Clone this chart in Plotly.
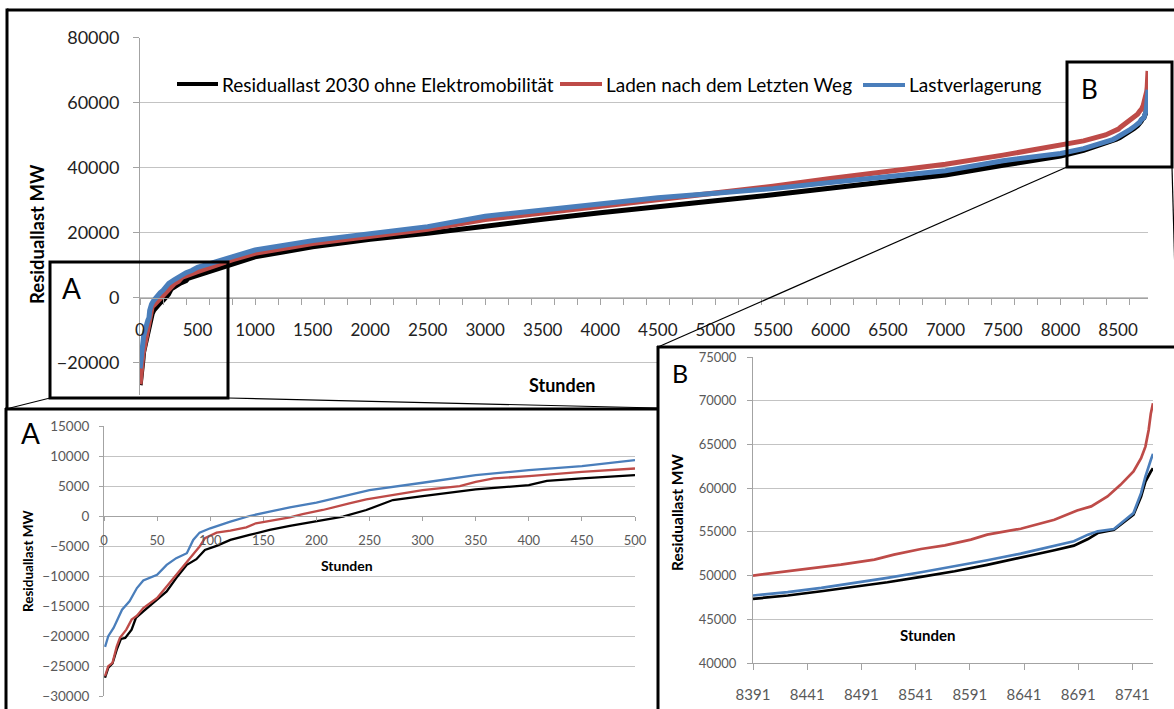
import plotly.graph_objects as go

W, H = 1174, 709


def px(x):
    return x / W


def py(y):
    return 1 - y / H


# ---------------- data ----------------
SERIES = ["Residuallast 2030 ohne Elektromobilität", "Laden nach dem Letzten Weg", "Lastverlagerung"]

# first 500 hours (detail A)
a_hours_base = [1, 4, 8, 12, 16, 20, 26, 30, 37, 50, 59, 68, 78, 87, 95, 106, 119, 137, 156, 175,
                200, 225, 247, 272, 300, 350, 400, 417, 450, 500]
a_base = [-26960, -25300, -24580, -22260, -20480, -20310, -18940, -17000, -15890, -13950, -12570,
          -10350, -8140, -7200, -5650, -4980, -3990, -3160, -2330, -1660, -940, -110, 1000, 2660,
          3320, 4430, 5150, 5870, 6260, 6810]

a_hours_laden = [1, 4, 8, 12, 15, 21, 26, 31, 37, 50, 59, 68, 78, 84, 90, 95, 106, 119, 134, 143,
                 162, 175, 187, 206, 231, 247, 300, 335, 350, 367, 400, 450, 500]
a_laden = [-26690, -25030, -24470, -21710, -20310, -18940, -17270, -16610, -15330, -13670, -11740,
           -9800, -7590, -6200, -5090, -3710, -2770, -2440, -1880, -1210, -660, -220, 330, 1000,
           2110, 2770, 4320, 4980, 5700, 6260, 6640, 7360, 7920]

a_hours_shift = [1, 4, 9, 17, 24, 31, 37, 50, 59, 68, 78, 84, 90, 100, 119, 137, 156, 175, 200,
                 225, 250, 300, 350, 400, 450, 500]
a_shift = [-21810, -20040, -18660, -15610, -14230, -12010, -10740, -9800, -8140, -7030, -6200,
           -3990, -2770, -2050, -940, 0, 720, 1440, 2220, 3210, 4320, 5540, 6810, 7640, 8300, 9300]

# middle part of the year (main chart)
m_hours = [800, 1000, 1500, 2000, 2500, 3000, 3500, 4000, 4500, 5000, 5500, 6000, 6500, 7000,
           7500, 8000, 8200]
m_base = [10500, 12500, 15600, 17900, 19800, 22100, 24100, 26100, 28100, 29800, 31600, 33700,
          35600, 37700, 40700, 43500, 45300]
m_laden = [11600, 13600, 16600, 18900, 21000, 24000, 26000, 28100, 30000, 32000, 34200, 36600,
           38700, 41000, 43800, 46700, 48200]
m_shift = [12500, 14600, 17500, 19700, 21800, 25000, 26900, 28800, 30700, 32100, 33500, 35400,
           37100, 39000, 42100, 44300, 45800]

# last hours (detail B)
b_hours_base = [8391, 8423, 8454, 8485, 8515, 8546, 8577, 8607, 8638, 8669, 8687, 8700, 8709,
                8724, 8736, 8742, 8749, 8753, 8758, 8760]
b_base = [47340, 47720, 48210, 48710, 49240, 49850, 50490, 51220, 52020, 52890, 53420, 54180,
          54870, 55250, 56390, 56960, 59050, 60760, 61900, 62280]
b_shift = [47720, 48100, 48590, 49160, 49730, 50380, 51060, 51750, 52510, 53350, 53920, 54680,
           55060, 55320, 56580, 57150, 59430, 61330, 63230, 63920]
b_hours_laden = [8391, 8423, 8454, 8472, 8503, 8521, 8546, 8568, 8592, 8607, 8638, 8669, 8690,
                 8703, 8718, 8730, 8742, 8749, 8753, 8756, 8758, 8760]
b_laden = [50000, 50490, 50950, 51250, 51830, 52400, 53040, 53460, 54110, 54680, 55360, 56390,
           57450, 57910, 59050, 60380, 61900, 63420, 64750, 66650, 68550, 69700]

main_x_ticks = list(range(0, 8501, 500))
inset_b_ticks = [8391, 8441, 8491, 8541, 8591, 8641, 8691, 8741]

# ---------------- style ----------------
BLACK, RED, BLUE = "#000000", "#be4b48", "#4a7ebb"
COLORS = [BLACK, RED, BLUE]
FONT = "Lato, 'Open Sans', sans-serif"
GRID = "#c3c3c3"
AXL = "#a3a3a3"
LBL = "#595959"

fig = go.Figure()

full = [
    (a_hours_base + m_hours + b_hours_base, a_base + m_base + b_base),
    (a_hours_laden + m_hours + b_hours_laden, a_laden + m_laden + b_laden),
    (a_hours_shift + m_hours + b_hours_base, a_shift + m_shift + b_shift),
]
for (xs, ys), c, name in zip(full, COLORS, SERIES):
    fig.add_trace(go.Scatter(x=xs, y=ys, mode="lines", line=dict(color=c, width=5),
                             name=name, showlegend=False, xaxis="x", yaxis="y"))

# overlay axis carrying the main x labels
fig.add_trace(go.Scatter(x=[None], y=[None], xaxis="x6", yaxis="y", showlegend=False,
                         hoverinfo="skip"))
# white frames for the two detail panels
fig.add_trace(go.Scatter(x=[None], y=[None], xaxis="x2", yaxis="y2", showlegend=False,
                         hoverinfo="skip"))
fig.add_trace(go.Scatter(x=[None], y=[None], xaxis="x3", yaxis="y3", showlegend=False,
                         hoverinfo="skip"))

insA = [(a_hours_base, a_base), (a_hours_laden, a_laden), (a_hours_shift, a_shift)]
for (xs, ys), c, name in zip(insA, COLORS, SERIES):
    fig.add_trace(go.Scatter(x=xs, y=ys, mode="lines", line=dict(color=c, width=2.3),
                             name=name, showlegend=False, xaxis="x4", yaxis="y4"))

insB = [(b_hours_base, b_base), (b_hours_laden, b_laden), (b_hours_base, b_shift)]
for (xs, ys), c, name in zip(insB, COLORS, SERIES):
    fig.add_trace(go.Scatter(x=xs, y=ys, mode="lines", line=dict(color=c, width=2.7),
                             name=name, showlegend=False, xaxis="x5", yaxis="y5"))

# ---------------- axes ----------------
MX0, MX1, MY0, MY1 = 140, 1148, 395, 37.5          # main plot area in pixels
main_rng_x = [0, 8760]
main_rng_y = [-30000, 80000]
main_dom_y = [py(MY0), py(MY1)]
zero_main = main_dom_y[0] + (0 - main_rng_y[0]) / (main_rng_y[1] - main_rng_y[0]) * (main_dom_y[1] - main_dom_y[0])

insA_dom_y = [py(696), py(426)]
insA_rng_y = [-30000, 15000]
zero_A = insA_dom_y[0] + (0 - insA_rng_y[0]) / (insA_rng_y[1] - insA_rng_y[0]) * (insA_dom_y[1] - insA_dom_y[0])

fig.update_layout(
    width=W, height=H, margin=dict(l=0, r=0, t=0, b=0, pad=0, autoexpand=False),
    paper_bgcolor="white", plot_bgcolor="white",
    font=dict(family=FONT, color="#222222"),
    showlegend=False, hovermode=False,
    xaxis=dict(domain=[px(MX0), px(MX1)], range=main_rng_x, anchor="free", position=zero_main,
               showgrid=False, zeroline=False, showline=True, linecolor=AXL, linewidth=1,
               ticks="outside", ticklen=6, tickcolor=AXL, tickmode="linear", tick0=0, dtick=200,
               showticklabels=False),
    xaxis6=dict(overlaying="x", range=main_rng_x, anchor="free", position=zero_main,
                showgrid=False, zeroline=False, showline=False, ticks="",
                tickmode="array", tickvals=main_x_ticks, ticktext=[str(v) for v in main_x_ticks],
                tickfont=dict(size=17, color="#222222", family=FONT), ticklabelstandoff=20),
    yaxis=dict(domain=main_dom_y, range=main_rng_y, anchor="x", tickmode="linear", tick0=0,
               dtick=20000, tickformat="d", showgrid=True, gridcolor=GRID, gridwidth=1,
               zeroline=False, showline=True, linecolor=AXL, ticks="outside", ticklen=6,
               tickcolor=AXL, tickfont=dict(size=18, color="#222222", family=FONT),
               ticklabelstandoff=10),
    xaxis2=dict(domain=[px(7), px(657)], range=[0, 1], anchor="y2", visible=False),
    yaxis2=dict(domain=[py(709), py(409)], range=[0, 1], anchor="x2", visible=False),
    xaxis3=dict(domain=[px(658), 1.0], range=[0, 1], anchor="y3", visible=False),
    yaxis3=dict(domain=[0.0, py(347)], range=[0, 1], anchor="x3", visible=False),
    xaxis4=dict(domain=[px(104), px(635)], range=[0, 500], anchor="free", position=zero_A,
                showgrid=False, zeroline=False, showline=True, linecolor=AXL,
                ticks="outside", ticklen=4, tickcolor=AXL, tickmode="linear", tick0=0, dtick=50,
                tickfont=dict(size=13, color=LBL, family=FONT), ticklabelstandoff=8),
    yaxis4=dict(domain=insA_dom_y, range=insA_rng_y, anchor="x4", tickmode="linear", tick0=0,
                dtick=5000, tickformat="d", showgrid=True, gridcolor=GRID, zeroline=False,
                showline=True, linecolor=AXL, ticks="outside", ticklen=4, tickcolor=AXL,
                tickfont=dict(size=13.5, color=LBL, family=FONT), ticklabelstandoff=7),
    xaxis5=dict(domain=[px(753), px(1153)], range=[8391, 8760], anchor="y5",
                showgrid=False, zeroline=False, showline=True, linecolor=AXL,
                ticks="outside", ticklen=6, tickcolor=AXL, tickmode="array",
                tickvals=inset_b_ticks, ticktext=[str(v) for v in inset_b_ticks],
                tickfont=dict(size=15, color=LBL, family=FONT), ticklabelstandoff=12),
    yaxis5=dict(domain=[py(663), py(357)], range=[40000, 75000], anchor="x5", tickmode="linear",
                tick0=40000, dtick=5000, tickformat="d", showgrid=True, gridcolor=GRID,
                zeroline=False, showline=True, linecolor=AXL, ticks="outside", ticklen=5,
                tickcolor=AXL, tickfont=dict(size=13, color=LBL, family=FONT),
                ticklabelstandoff=8),
)
for ax in ["xaxis", "xaxis2", "xaxis3", "xaxis4", "xaxis5", "xaxis6",
           "yaxis", "yaxis2", "yaxis3", "yaxis4", "yaxis5"]:
    fig.layout[ax].automargin = False

# ---------------- frames, boxes, connectors ----------------
shapes = []


def line(x0, y0, x1, y1, w=3, color="black"):
    shapes.append(dict(type="line", xref="paper", yref="paper", x0=px(x0), y0=py(y0),
                       x1=px(x1), y1=py(y1), line=dict(color=color, width=w), layer="above"))


def rect(x0, y0, x1, y1, w=3):
    shapes.append(dict(type="rect", xref="paper", yref="paper", x0=px(x0), y0=py(y0),
                       x1=px(x1), y1=py(y1), line=dict(color="black", width=w),
                       fillcolor="rgba(0,0,0,0)", layer="above"))


def to_main_x(p):
    return main_rng_x[0] + (p - MX0) / (MX1 - MX0) * (main_rng_x[1] - main_rng_x[0])


def to_main_y(p):
    return main_rng_y[0] + (MY0 - p) / (MY0 - MY1) * (main_rng_y[1] - main_rng_y[0])


# white fill of zoom box B (over grid, under curves)
shapes.append(dict(type="rect", xref="x", yref="y",
                   x0=to_main_x(1068), x1=to_main_x(1172),
                   y0=to_main_y(166), y1=to_main_y(63),
                   fillcolor="white", line=dict(width=0), layer="between"))

# outer frame of main chart
line(7, 10, 1180, 10)
line(7, 8.5, 7, 410)
# frame of detail A
line(5, 409, 659, 409)
line(6, 408, 6, 715)
# frame of detail B
line(658, 346, 658, 715)
line(657, 347, 1180, 347)
# zoom boxes
rect(50, 262, 228, 398)
rect(1067, 62, 1172, 167)
# connectors
line(50, 398, 6, 409, w=1.2)
line(228, 398, 658, 408, w=1.2)
line(1067, 167, 658, 347, w=1.2)
line(1172, 167, 1177, 347, w=1.2)

# legend samples
line(177, 84, 218, 84, w=4, color=BLACK)
line(560, 84, 602, 84, w=4, color=RED)
line(863, 85, 905, 85, w=4, color=BLUE)

fig.update_layout(shapes=shapes)

# ---------------- texts ----------------
ann = []


def text(x, y, s, size, angle=0, xanchor="center", color="#000000"):
    ann.append(dict(xref="paper", yref="paper", x=px(x), y=py(y), text=s, showarrow=False,
                    textangle=angle, xanchor=xanchor, yanchor="middle",
                    font=dict(size=size, color=color, family=FONT)))


text(220, 84, SERIES[0], 19, xanchor="left")
text(604, 84, SERIES[1], 19, xanchor="left")
text(907, 84, SERIES[2], 19, xanchor="left")

text(37, 234, "<b>Residuallast MW</b>", 18.5, angle=-90)
text(562, 385, "<b>Stunden</b>", 18)
text(71, 288, "A", 28)
text(1089, 89, "B", 26)

text(30, 433, "A", 28)
text(28, 561, "<b>Residuallast MW</b>", 13.5, angle=-90)
text(347, 565, "<b>Stunden</b>", 14)

text(680, 373, "B", 25)
text(677, 512, "<b>Residuallast MW</b>", 15.5, angle=-90)
text(927, 635, "<b>Stunden</b>", 15)

fig.update_layout(annotations=ann)

fig.write_html("out.html", config={"displayModeBar": False},
               post_script="document.body.style.margin='0px';")
